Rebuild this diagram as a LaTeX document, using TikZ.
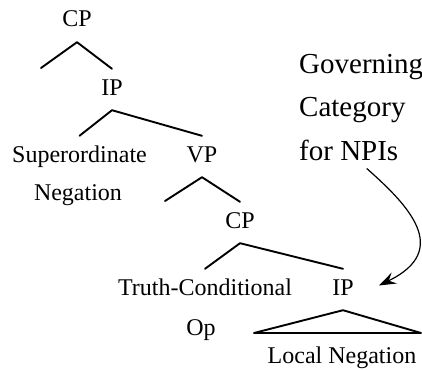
\documentclass[tikz,border=0pt]{standalone}
\usepackage{fontspec}
\setmainfont{Liberation Serif}
\usetikzlibrary{arrows.meta,calc}

\tikzset{
  treelabel/.style={inner xsep=0pt, inner ysep=10pt, text height=16pt, text depth=5pt,
                    font=\fontsize{24pt}{28pt}\selectfont, anchor=base},
  plainlabel/.style={inner sep=0pt, font=\fontsize{24pt}{28pt}\selectfont, anchor=base},
  notelabel/.style={inner sep=0pt, font=\fontsize{29pt}{34pt}\selectfont, anchor=base west},
  branch/.style={line width=1.9pt, line cap=round, line join=round},
  pointer/.style={line width=1.2pt, -{Stealth[length=17pt, width=12pt, inset=6pt]}}
}

\begin{document}
\begin{tikzpicture}[x=1pt, y=-1pt]
  \useasboundingbox (0,0) rectangle (422,369);

  % tree labels
  \node[treelabel] (cp1) at (77,27) {CP};
  \node[treelabel] (ip1) at (112,95) {IP};
  \node[treelabel] (sup) at (79.5,162) {Superordinate};
  \node[plainlabel] (neg) at (78,200) {Negation};
  \node[treelabel] (vp) at (202,162) {VP};
  \node[treelabel] (cp2) at (240,228) {CP};
  \node[treelabel] (tc) at (205,295) {Truth-Conditional};
  \node[plainlabel] (op) at (201,335) {Op};
  \node[treelabel] (ip2) at (343,295) {IP};
  \node[plainlabel] (loc) at (342,363) {Local Negation};

  % empty daughters and base of the triangle
  \coordinate (cp1left) at (41,68);
  \coordinate (vpleft) at (165,201);
  \coordinate (triL) at (254,333);
  \coordinate (triR) at (421,333);

  % branches
  \draw[branch] (cp1left) -- (cp1.south) -- (ip1.north);
  \draw[branch] (sup.north) -- (ip1.south) -- (vp.north);
  \draw[branch] (vpleft) -- (vp.south) -- (cp2.north);
  \draw[branch] (tc.north) -- (cp2.south) -- (ip2.north);
  \draw[branch] (triL) -- (ip2.south) -- (triR) -- cycle;

  % annotation
  \node[notelabel] (gov1) at (299,73) {Governing};
  \node[notelabel] (gov2) at (299,116) {Category};
  \node[notelabel] (gov3) at (299,160) {for NPIs};

  \draw[pointer] ([shift={(18pt,-8pt)}]gov3.south)
    .. controls (408,205) and (452,250) .. ([shift={(25pt,4pt)}]ip2.east);
\end{tikzpicture}
\end{document}
